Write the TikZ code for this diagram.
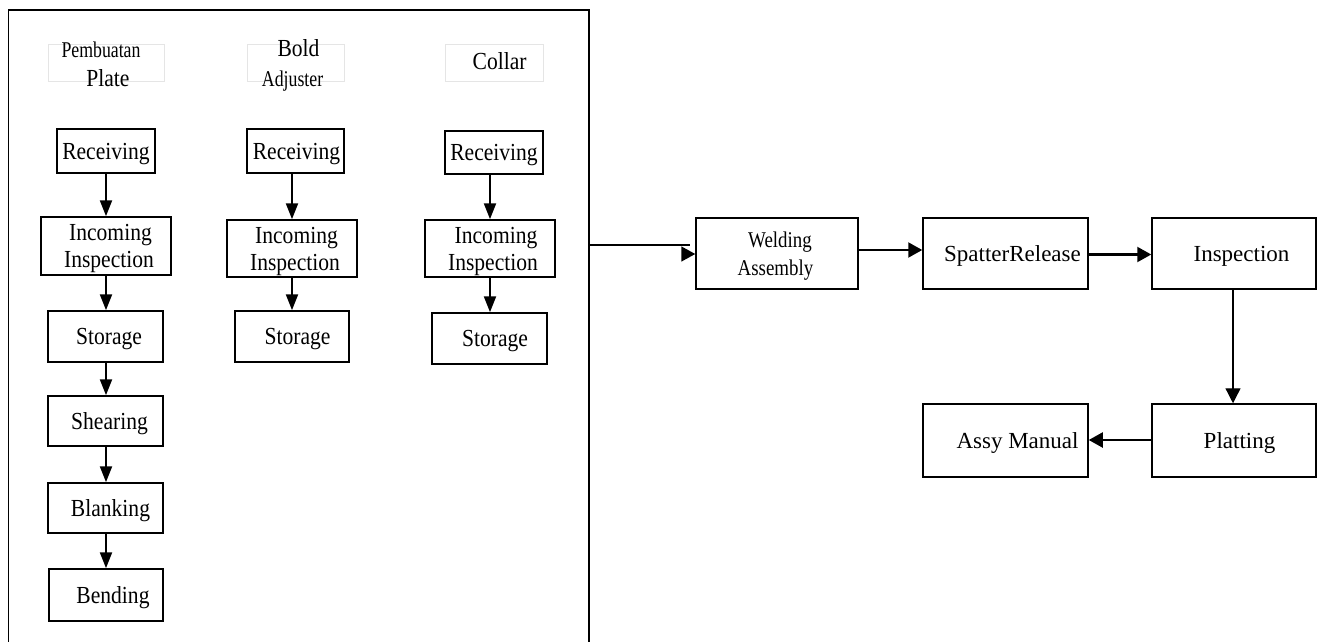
\documentclass[tikz,border=0pt]{standalone}
\usepackage{fontspec}
\setmainfont{Liberation Serif}
\newfontfamily\lftfnt[FakeStretch=0.88]{Liberation Serif}
\newfontfamily\smlfnt[FakeStretch=0.79]{Liberation Serif}
\newfontfamily\wldfnt[FakeStretch=0.84]{Liberation Serif}
\usetikzlibrary{arrows.meta}
\tikzset{
  box/.style={draw=black, line width=1.5pt, inner sep=0pt, align=center, text depth=0pt},
  lbox/.style={box, font=\fontsize{24.5}{27}\lftfnt\selectfont},
  rbox/.style={box, font=\fontsize{23}{27}\selectfont},
  hbox/.style={draw=black!10, line width=1pt, inner sep=0pt},
  htxt/.style={anchor=base, inner sep=0pt},
  varr/.style={line width=2.1pt, -{Triangle[length=16pt,width=12pt]}},
  harr/.style={line width=2.1pt, -{Triangle[length=14pt,width=15pt]}},
}
\newcommand\mybox[7][]{\node[#1, minimum width={(#4-#3)*1pt}, minimum height={(#6-#5)*1pt}] (#2) at ({(#3+#4)/2},{(#5+#6)/2}) {#7};}
\begin{document}
\begin{tikzpicture}[x=1pt,y=-1pt]
\useasboundingbox (0,0) rectangle (1317,642);
% frame
\node[draw=black, line width=1.3pt, inner sep=0pt, minimum width=580.5pt, minimum height=640pt] (frame) at (298.75,330) {};
% headers
\mybox[hbox]{h1}{48}{164}{45}{81}{}
\mybox[hbox]{h2}{247}{344}{45}{81}{}
\mybox[hbox]{h3}{445}{543}{45}{81}{}
\node[htxt, font=\fontsize{22.5}{26}\smlfnt\selectfont] (h1a) at (101,58) {Pembuatan};
\node[htxt, font=\fontsize{24.5}{27}\lftfnt\selectfont] (h1b) at (108,86) {Plate};
\node[htxt, font=\fontsize{24.5}{27}\lftfnt\selectfont] (h2a) at (298.5,57) {Bold};
\node[htxt, font=\fontsize{22.5}{26}\smlfnt\selectfont] (h2b) at (292.6,86) {Adjuster};
\node[htxt, font=\fontsize{24.5}{27}\lftfnt\selectfont] (h3a) at (499.6,70) {Collar};
% column 1
\mybox[lbox]{r1}{57}{155}{129}{173}{Receiving}
\mybox[lbox]{i1}{41}{171}{217}{275}{\hspace*{9pt}Incoming\\\hspace*{6pt}Inspection}
\mybox[lbox]{s1}{48}{163}{311}{362}{\hspace*{7pt}Storage}
\mybox[lbox]{sh}{48}{163}{396}{446}{\hspace*{8pt}Shearing}
\mybox[lbox]{bl}{48}{163}{483}{533}{\hspace*{10pt}Blanking}
\mybox[lbox]{be}{49}{163}{569}{621}{\hspace*{14pt}Bending}
% column 2
\mybox[lbox]{r2}{247}{344}{129}{173}{\hspace*{2pt}Receiving}
\mybox[lbox]{i2}{227}{357}{220}{277}{\hspace*{9pt}Incoming\\\hspace*{6pt}Inspection}
\mybox[lbox]{s2}{235}{349}{311}{362}{\hspace*{11pt}Storage}
% column 3
\mybox[lbox]{r3}{445}{543}{131}{174}{Receiving}
\mybox[lbox]{i3}{425}{555}{220}{277}{\hspace*{12pt}Incoming\\\hspace*{6pt}Inspection}
\mybox[lbox]{s3}{432}{547}{313}{364}{\hspace*{11pt}Storage}
% right side
\mybox[box, font=\fontsize{22.5}{28}\wldfnt\selectfont]{w}{696}{858}{218}{289}{\hspace*{6pt}Welding\\\hspace*{-3pt}Assembly}
\mybox[rbox]{sp}{923}{1088}{218}{289}{\hspace*{14pt}SpatterRelease}
\mybox[rbox]{in}{1152}{1316}{218}{289}{\hspace*{15pt}Inspection}
\mybox[rbox]{pl}{1152}{1316}{404}{477}{\hspace*{11pt}Platting}
\mybox[rbox]{as}{923}{1088}{404}{477}{\hspace*{24pt}Assy Manual}
% column arrows
\draw[varr] (r1.south) -- (r1.south |- i1.north);
\draw[varr] (r1.south |- i1.south) -- (r1.south |- s1.north);
\draw[varr] (r1.south |- s1.south) -- (r1.south |- sh.north);
\draw[varr] (r1.south |- sh.south) -- (r1.south |- bl.north);
\draw[varr] (r1.south |- bl.south) -- (r1.south |- be.north);
\draw[varr] (i2.north |- r2.south) -- (i2.north);
\draw[varr] (i2.south) -- (i2.south |- s2.north);
\draw[varr] (i3.north |- r3.south) -- (i3.north);
\draw[varr] (i3.south) -- (i3.south |- s3.north);
% right connectors
\coordinate (jn) at (690,245);
\coordinate (tp) at (683,254);
\draw[line width=2.1pt] (frame.east |- jn) -- (jn);
\draw[line width=1.5pt, -{Triangle[length=14pt,width=15pt]}] (tp) -- (w.west |- tp);
\draw[harr] ([yshift=3.5pt]w.east) -- ([yshift=3.5pt]w.east -| sp.west);
\draw[harr] ([yshift=-1pt]sp.east) -- ([yshift=-1pt]sp.east -| in.west);
\draw[line width=1.3pt, -{Triangle[length=15pt,width=15pt]}] ([xshift=-1pt]in.south) -- ([xshift=-1pt]in.south |- pl.north);
\draw[harr] ([yshift=0.5pt]pl.west) -- ([yshift=0.5pt]pl.west -| as.east);
\end{tikzpicture}
\end{document}
